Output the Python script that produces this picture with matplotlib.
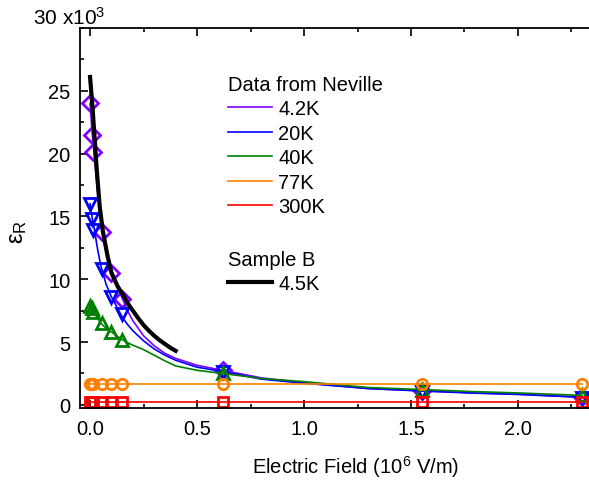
import matplotlib.pyplot as plt
from matplotlib.ticker import MultipleLocator

plt.rcParams['font.family'] = ['Liberation Sans', 'DejaVu Sans']
plt.rcParams['mathtext.fontset'] = 'custom'
plt.rcParams['mathtext.rm'] = 'Liberation Sans'
plt.rcParams['mathtext.it'] = 'Liberation Sans:italic'
plt.rcParams['font.size'] = 14.5

# eps_R in units of 10^3, field in 10^6 V/m
temps = ['4.2K', '20K', '40K', '77K', '300K']
field = [0.0, 0.008, 0.016, 0.055, 0.1, 0.15, 0.62, 1.55, 2.3]
eps_pts = {
    '4.2K': [24.0, 21.5, 20.1, 13.8, 10.5, 8.4, 2.8, 1.1, 0.6],
    '20K': [16.0, 14.8, 13.9, 10.8, 8.6, 7.2, 2.6, 1.05, 0.55],
    '40K': [7.9, 7.7, 7.4, 6.5, 5.8, 5.2, 2.5, 1.2, 0.75],
    '77K': [1.7, 1.7, 1.7, 1.7, 1.7, 1.7, 1.7, 1.7, 1.7],
    '300K': [0.2, 0.2, 0.2, 0.2, 0.2, 0.2, 0.2, 0.2, 0.2],
}

# smooth curves through the Neville data, read at these fields
fit_field = [0.0, 0.01, 0.02, 0.035, 0.05, 0.075, 0.1, 0.125, 0.15, 0.175, 0.2, 0.25, 0.3,
             0.35, 0.4, 0.5, 0.62, 0.8, 1.0, 1.3, 1.55, 1.8, 2.0, 2.3]
eps_fit = {
    '4.2K': [24.0, 21.6, 19.8, 17.0, 14.8, 12.4, 10.8, 9.5, 8.5, 7.5, 6.7, 5.5, 4.7,
             4.1, 3.7, 3.15, 2.75, 2.15, 1.75, 1.3, 1.12, 0.95, 0.85, 0.62],
    '20K': [16.0, 14.9, 14.0, 12.4, 11.1, 9.6, 8.6, 7.8, 7.0, 6.4, 5.9, 5.1, 4.45,
            3.95, 3.55, 3.0, 2.65, 2.05, 1.72, 1.3, 1.1, 0.93, 0.83, 0.6],
    '40K': [7.9, 7.6, 7.3, 6.9, 6.5, 6.1, 5.8, 5.5, 5.2, 4.95, 4.75, 4.4, 3.95,
            3.5, 3.1, 2.75, 2.5, 2.1, 1.85, 1.38, 1.22, 1.05, 0.95, 0.75],
    '77K': [1.7] * 24,
    '300K': [0.2] * 24,
}

# Sample B, 4.5K
sample_b_field = [0.0, 0.01, 0.02, 0.03, 0.045, 0.06, 0.08, 0.1, 0.13, 0.16, 0.175, 0.2,
                  0.225, 0.25, 0.275, 0.3, 0.325, 0.35, 0.375, 0.4]
sample_b_eps = [26.1, 24.0, 21.6, 19.0, 15.8, 13.8, 12.0, 10.5, 9.4, 8.6, 8.1, 7.5,
                6.9, 6.35, 5.9, 5.5, 5.15, 4.85, 4.55, 4.3]

colors = {'4.2K': '#8000ff', '20K': '#0000ff', '40K': '#008000', '77K': '#ff8000', '300K': '#ff0000'}
markers = {'4.2K': 'D', '20K': 'v', '40K': '^', '77K': 'o', '300K': 's'}
msize = {'4.2K': 8.5, '20K': 8.5, '40K': 8.5, '77K': 7.5, '300K': 6.5}

fig = plt.figure(figsize=(5.89, 4.85), dpi=100)
ax = fig.add_axes([80 / 589, 76 / 485, 509 / 589, 380 / 485])

handles = []
for t in temps:
    h, = ax.plot(fit_field, eps_fit[t], color=colors[t], lw=1.2, label=t)
    handles.append(h)
    ax.plot(field, eps_pts[t], ls='none', marker=markers[t], ms=msize[t],
            mfc='none', mec=colors[t], mew=2)
black, = ax.plot(sample_b_field, sample_b_eps, color='black', lw=3, label='4.5K')

ax.set_xlim(-0.047, 2.332)
ax.set_ylim(-0.25, 30)
ax.xaxis.set_major_locator(MultipleLocator(0.5))
ax.xaxis.set_minor_locator(MultipleLocator(0.25))
ax.set_yticks([0, 5, 10, 15, 20, 25])
ax.yaxis.set_minor_locator(MultipleLocator(2.5))
ax.xaxis.set_major_formatter(lambda v, p: f'{v:.1f}')
ax.spines['right'].set_visible(False)
for s in ['left', 'top', 'bottom']:
    ax.spines[s].set_linewidth(1.3)
ax.tick_params(which='both', direction='in', top=True, right=False, width=1.2)
ax.tick_params(which='major', length=6)
ax.tick_params(which='minor', length=3)
ax.tick_params(axis='x', pad=8)
ax.tick_params(axis='y', pad=7)

ax.set_xlabel('Electric Field (10$^6$ V/m)')
ax.xaxis.set_label_coords(0.542, -0.118)
ax.set_ylabel('ε$_\\mathregular{R}$', fontsize=17, rotation=90)
ax.yaxis.set_label_coords(-0.101, 0.466)
fig.text(33 / 589, 1 - 18 / 485, '30 x10$^3$', ha='left', va='center', fontsize=15)

leg_kw = dict(loc='upper left', bbox_transform=fig.transFigure, frameon=False,
              handlelength=2.2, handletextpad=0.3, labelspacing=0.27,
              borderpad=0, borderaxespad=0, alignment='left', title_fontsize=14.5)
leg1 = ax.legend(handles=handles, title='Data from Neville',
                 bbox_to_anchor=(228 / 589, 1 - 76 / 485), **leg_kw)
ax.add_artist(leg1)
ax.legend(handles=[black], title='Sample B',
          bbox_to_anchor=(228 / 589, 1 - 251 / 485), **leg_kw)

fig.savefig('out.png', dpi=100)
